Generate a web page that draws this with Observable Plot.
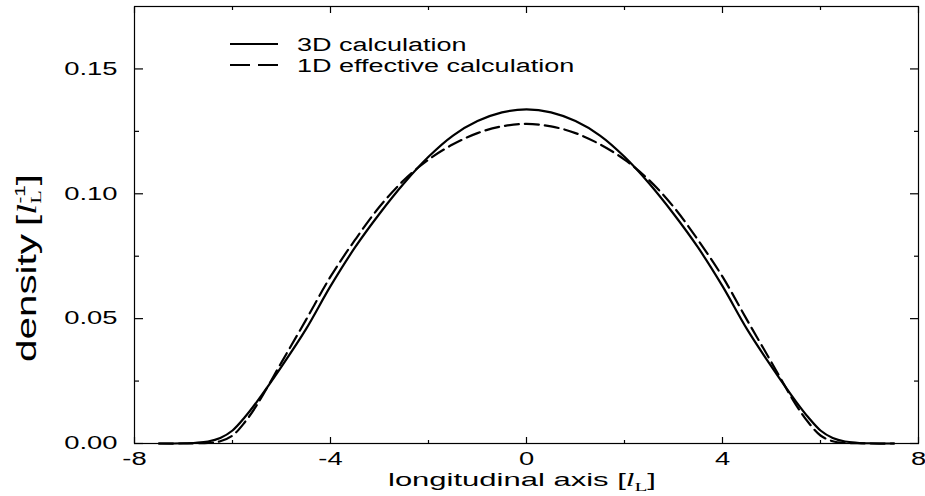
<!DOCTYPE html>
<html><head><meta charset="utf-8">
<script src="https://cdn.jsdelivr.net/npm/d3@7"></script>
<script src="https://cdn.jsdelivr.net/npm/@observablehq/plot@0.6"></script>
<style>body{margin:0;background:#fff} #chart{position:relative;width:925px;height:496px}</style>
</head><body><div id="chart"></div>
<script>
// longitudinal position [l_L]
const xPos = [-7.5,-7,-6.75,-6.5,-6.25,-6,-5.75,-5.5,-5,-4.5,-4,-3.5,-3,-2.5,-2,-1.5,-1,-0.5,0,0.5,1,1.5,2,2.5,3,3.5,4,4.5,5,5.5,5.75,6,6.25,6.5,6.75,7,7.5];
// 3D calculation density
const density3D = [0,0.0001,0.0003,0.0008,0.0022,0.0052,0.0105,0.0168,0.0308,0.0458,0.0630,0.0785,0.0920,0.1042,0.1148,0.1233,0.1291,0.1326,0.1338,0.1326,0.1291,0.1233,0.1148,0.1042,0.0920,0.0785,0.0630,0.0458,0.0308,0.0168,0.0105,0.0052,0.0022,0.0008,0.0003,0.0001,0];
// 1D effective calculation density
const density1D = [0,0,0.0001,0.0002,0.0009,0.0032,0.0085,0.0155,0.0325,0.0495,0.0668,0.0815,0.0948,0.1055,0.1137,0.1198,0.1243,0.1270,0.1280,0.1270,0.1243,0.1198,0.1137,0.1055,0.0948,0.0815,0.0668,0.0495,0.0325,0.0155,0.0085,0.0032,0.0009,0.0002,0.0001,0,0];
const seriesNames = ["3D calculation", "1D effective calculation"];
const xTicks = [-8, -4, 0, 4, 8];
const xMinor = [-6, -2, 2, 6];
const yTicks = [0, 0.05, 0.10, 0.15];
const yMinor = [0.025, 0.075, 0.125];

const rows3D = xPos.map((x, i) => ({x, y: density3D[i], s: seriesNames[0]}));
const rows1D = xPos.map((x, i) => ({x, y: density1D[i], s: seriesNames[1]}));

const FONT = "'Liberation Sans', Arial, Helvetica, sans-serif";
const SERIF = "'Liberation Serif', 'Times New Roman', serif";
const fmtY = d3.format(".2f");
const noLabel = () => "";

const svg = Plot.plot({
  width: 925, height: 496,
  marginLeft: 134, marginRight: 7, marginTop: 6, marginBottom: 53,
  style: {fontFamily: FONT, fontSize: "18px", color: "#000", background: "#fff"},
  x: {domain: [-8, 8], label: null},
  y: {domain: [0, 0.175], label: null},
  marks: [
    Plot.frame({stroke: "#000", strokeWidth: 1.2}),
    Plot.axisX({anchor: "bottom", ticks: xTicks, tickSize: -6, tickPadding: 15, tickFormat: d => String(d), label: null, fontSize: 18, strokeWidth: 1.2}),
    Plot.axisX({anchor: "bottom", ticks: xMinor, tickSize: -3, tickFormat: noLabel, label: null, strokeWidth: 1.2}),
    Plot.axisX({anchor: "top", ticks: xTicks, tickSize: -6, tickFormat: noLabel, label: null, strokeWidth: 1.2}),
    Plot.axisX({anchor: "top", ticks: xMinor, tickSize: -3, tickFormat: noLabel, label: null, strokeWidth: 1.2}),
    Plot.axisY({anchor: "left", ticks: yTicks, tickSize: -9, tickPadding: 26, tickFormat: fmtY, label: null, fontSize: 18, strokeWidth: 1.2}),
    Plot.axisY({anchor: "left", ticks: yMinor, tickSize: -5, tickFormat: noLabel, label: null, strokeWidth: 1.2}),
    Plot.axisY({anchor: "right", ticks: yTicks, tickSize: -9, tickFormat: noLabel, label: null, strokeWidth: 1.2}),
    Plot.axisY({anchor: "right", ticks: yMinor, tickSize: -5, tickFormat: noLabel, label: null, strokeWidth: 1.2}),
    Plot.line(rows3D, {x: "x", y: "y", stroke: "#000", strokeWidth: 2.2, curve: "catmull-rom"}),
    Plot.line(rows1D, {x: "x", y: "y", stroke: "#000", strokeWidth: 2.2, strokeDasharray: "14,6", curve: "catmull-rom"})
  ]
});
document.getElementById("chart").appendChild(svg);

// remove any empty label nodes, stretch tick labels horizontally (wide typeface look)
d3.select(svg).selectAll("text").each(function () {
  if (!this.textContent) { this.remove(); return; }
  const w = this.getComputedTextLength();
  if (w > 0) {
    this.setAttribute("textLength", (w * 1.52).toFixed(1));
    this.setAttribute("lengthAdjust", "spacingAndGlyphs");
  }
});

const S = d3.select(svg);
// Legend
const leg = S.append("g").attr("font-family", FONT).attr("font-size", 18).attr("text-anchor", "start");
leg.append("line").attr("x1", 230).attr("x2", 278).attr("y1", 44).attr("y2", 44).attr("stroke", "#000").attr("stroke-width", 2.2);
leg.append("line").attr("x1", 230).attr("x2", 278).attr("y1", 65).attr("y2", 65).attr("stroke", "#000").attr("stroke-width", 2.2).attr("stroke-dasharray", "20,8");
const t1 = leg.append("text").attr("x", 297).attr("y", 51).text(seriesNames[0]);
const t2 = leg.append("text").attr("x", 297).attr("y", 72).text(seriesNames[1]);
[t1, t2].forEach(t => {
  const n = t.node(); const w = n.getComputedTextLength();
  n.setAttribute("textLength", (w * 1.5).toFixed(1)); n.setAttribute("lengthAdjust", "spacingAndGlyphs");
});

// x-axis label
const xl = S.append("text").attr("x", 522).attr("y", 486).attr("text-anchor", "middle")
  .attr("font-family", FONT).attr("font-size", 19);
xl.append("tspan").text("longitudinal axis [");
xl.append("tspan").attr("font-family", SERIF).attr("font-style", "italic").text("l");
xl.append("tspan").attr("font-family", SERIF).attr("font-size", 13).attr("dy", 5).text("L");
xl.append("tspan").attr("dy", -5).text("]");
xl.attr("textLength", 268).attr("lengthAdjust", "spacingAndGlyphs");

// y-axis label (rotated; u runs upward from y = 268)
const yg = S.append("g").attr("transform", "translate(36,268) rotate(-90)")
  .attr("font-family", FONT).attr("font-size", 27).attr("text-anchor", "start");
yg.append("text").attr("x", -94).attr("y", 0).text("density")
  .attr("textLength", 128).attr("lengthAdjust", "spacingAndGlyphs");
const yb = yg.append("text").attr("x", 42).attr("y", 0);
yb.append("tspan").text("[");
yb.append("tspan").attr("font-family", SERIF).attr("font-style", "italic").text("l");
yb.append("tspan").attr("font-family", SERIF).attr("font-size", 15).attr("dy", 5).text("L");
yb.append("tspan").attr("font-size", 14).attr("dx", -9).attr("dy", -16).text("-1");
yb.append("tspan").attr("dy", 11).text("]");
yb.attr("textLength", 52).attr("lengthAdjust", "spacingAndGlyphs");
</script>
</body></html>
